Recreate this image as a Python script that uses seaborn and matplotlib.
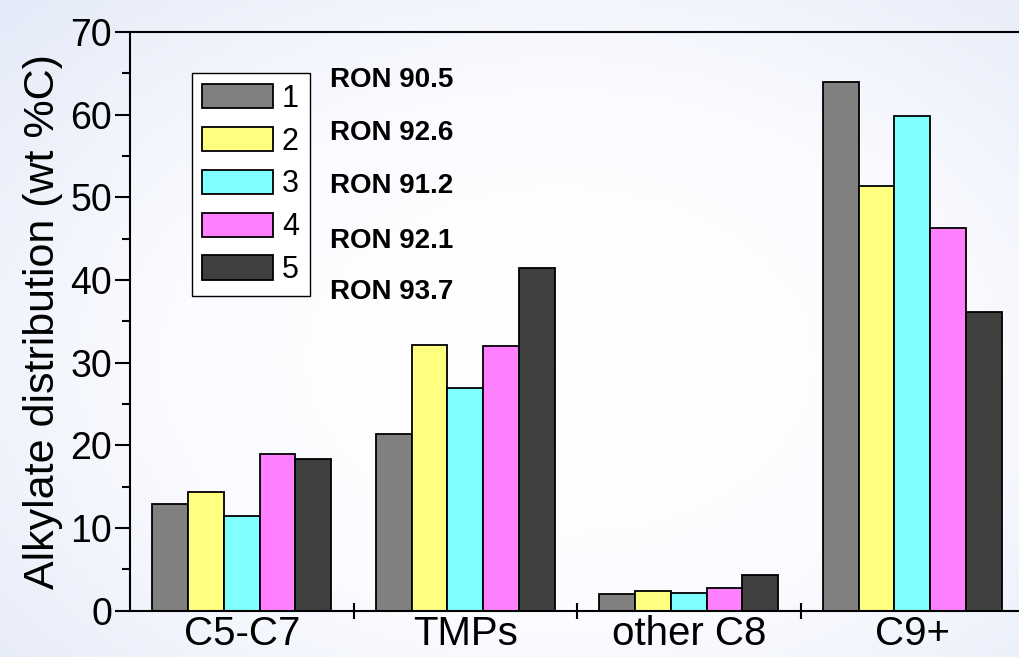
import numpy as np
import pandas as pd
import matplotlib
matplotlib.use("Agg")
import matplotlib.pyplot as plt
import seaborn as sns
from matplotlib.ticker import MultipleLocator, FixedLocator

# data
groups = ["C5-C7", "TMPs", "other C8", "C9+"]
samples = ["1", "2", "3", "4", "5"]
s1 = [12.9, 21.4, 2.0, 63.9]
s2 = [14.3, 32.1, 2.4, 51.4]
s3 = [11.4, 26.9, 2.1, 59.8]
s4 = [19.0, 32.0, 2.7, 46.3]
s5 = [18.3, 41.4, 4.3, 36.1]
ron_labels = ["RON 90.5", "RON 92.6", "RON 91.2", "RON 92.1", "RON 93.7"]
bar_colors = ["#808080", "#ffff80", "#80ffff", "#ff80ff", "#404040"]

rows = []
for name, vals in zip(samples, [s1, s2, s3, s4, s5]):
    for g, v in zip(groups, vals):
        rows.append({"group": g, "sample": name, "value": v})
df = pd.DataFrame(rows)

sns.set_style("ticks")
plt.rcParams["font.family"] = ["Liberation Sans", "DejaVu Sans"]
plt.rcParams["text.color"] = "black"
plt.rcParams["axes.labelcolor"] = "black"
plt.rcParams["xtick.color"] = "black"
plt.rcParams["ytick.color"] = "black"

fig = plt.figure(figsize=(10.19, 6.57), dpi=100)

# soft bluish background like the slide
bg = fig.add_axes([0, 0, 1, 1], zorder=-10)
yy, xx = np.mgrid[0:1:200j, 0:1:300j]
r = np.sqrt(((xx - 0.55) / 0.75) ** 2 + ((yy - 0.55) / 0.8) ** 2)
bg.imshow(np.clip(r, 0, 1), cmap=matplotlib.colors.LinearSegmentedColormap.from_list(
    "bgc", ["#ffffff", "#fbfcff", "#e4eaf8"]), aspect="auto", extent=[0, 1, 0, 1])
bg.axis("off")

ax = fig.add_axes([0.1276, 0.0705, 0.8773, 0.8808])
ax.patch.set_alpha(0)

sns.barplot(data=df, x="group", y="value", hue="sample", palette=bar_colors,
            saturation=1, edgecolor="black", linewidth=1.3, width=0.8, ax=ax,
            errorbar=None)

ax.set_xlim(-0.5, 3.5)
ax.set_ylim(0, 70)
ax.set_xlabel("")
ax.set_ylabel("Alkylate distribution (wt %C)", fontsize=31, labelpad=5)

ax.yaxis.set_major_locator(MultipleLocator(10))
ax.yaxis.set_minor_locator(MultipleLocator(5))
ax.tick_params(axis="y", which="major", direction="out", length=11, width=1.5, labelsize=27, pad=2)
ax.tick_params(axis="y", which="minor", direction="out", length=6, width=1.5)

ax.xaxis.set_major_locator(FixedLocator([0, 1, 2, 3]))
ax.set_xticklabels(groups)
ax.xaxis.set_minor_locator(FixedLocator([0.5, 1.5, 2.5]))
ax.tick_params(axis="x", which="major", direction="in", length=3, width=1.2, labelsize=29, pad=3)
ax.tick_params(axis="x", which="minor", direction="inout", length=12, width=1.5)

for side in ["left", "bottom", "top"]:
    ax.spines[side].set_linewidth(1.5)
    ax.spines[side].set_color("black")
ax.spines["right"].set_visible(False)

leg = ax.legend(loc="upper left", bbox_to_anchor=(0.069, 0.929), fontsize=22,
                handlelength=2.3, handleheight=0.85, labelspacing=0.42,
                handletextpad=0.3, borderpad=0.35, borderaxespad=0,
                frameon=True, fancybox=False, title=None)
leg.get_frame().set_edgecolor("black")
leg.get_frame().set_linewidth(1.0)
leg.get_frame().set_facecolor("white")
leg.get_frame().set_alpha(1)

ron_y = [64.2, 57.8, 51.4, 44.7, 38.6]
for txt, y in zip(ron_labels, ron_y):
    ax.text(0.224, y, txt, transform=ax.get_yaxis_transform(), fontsize=20,
            fontweight="bold", va="center", ha="left")

fig.savefig("out.png", dpi=100)
